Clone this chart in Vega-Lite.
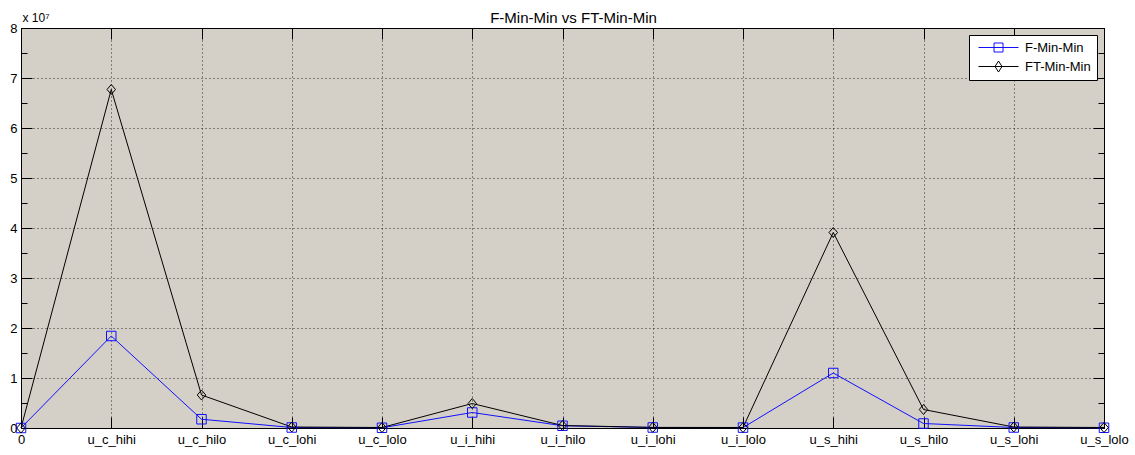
{
  "$schema": "https://vega.github.io/schema/vega-lite/v6.json",
  "width": 1083,
  "height": 400,
  "autosize": {"type": "none"},
  "padding": {"left": 21, "top": 28, "right": 31, "bottom": 27},
  "background": "white",
  "config": {
    "view": {"fill": "#d4d0c8", "stroke": "black", "strokeWidth": 1},
    "axis": {
      "labelFont": "Liberation Sans",
      "labelFontSize": 13,
      "labelColor": "black",
      "tickColor": "black",
      "domainColor": "black",
      "gridColor": "black",
      "gridDash": [1, 3],
      "gridOpacity": 0.8
    },
    "legend": {
      "labelFont": "Liberation Sans",
      "labelFontSize": 13,
      "labelColor": "black"
    }
  },
  "data": {
    "values": [
      {"name": "0", "series": "F-Min-Min", "value": 0},
      {"name": "u_c_hihi", "series": "F-Min-Min", "value": 18400000},
      {"name": "u_c_hilo", "series": "F-Min-Min", "value": 1750000},
      {"name": "u_c_lohi", "series": "F-Min-Min", "value": 100000},
      {"name": "u_c_lolo", "series": "F-Min-Min", "value": 50000},
      {"name": "u_i_hihi", "series": "F-Min-Min", "value": 3100000},
      {"name": "u_i_hilo", "series": "F-Min-Min", "value": 450000},
      {"name": "u_i_lohi", "series": "F-Min-Min", "value": 100000},
      {"name": "u_i_lolo", "series": "F-Min-Min", "value": 80000},
      {"name": "u_s_hihi", "series": "F-Min-Min", "value": 11000000},
      {"name": "u_s_hilo", "series": "F-Min-Min", "value": 900000},
      {"name": "u_s_lohi", "series": "F-Min-Min", "value": 100000},
      {"name": "u_s_lolo", "series": "F-Min-Min", "value": 50000},
      {"name": "0", "series": "FT-Min-Min", "value": 0},
      {"name": "u_c_hihi", "series": "FT-Min-Min", "value": 67700000},
      {"name": "u_c_hilo", "series": "FT-Min-Min", "value": 6600000},
      {"name": "u_c_lohi", "series": "FT-Min-Min", "value": 200000},
      {"name": "u_c_lolo", "series": "FT-Min-Min", "value": 100000},
      {"name": "u_i_hihi", "series": "FT-Min-Min", "value": 4900000},
      {"name": "u_i_hilo", "series": "FT-Min-Min", "value": 500000},
      {"name": "u_i_lohi", "series": "FT-Min-Min", "value": 120000},
      {"name": "u_i_lolo", "series": "FT-Min-Min", "value": 100000},
      {"name": "u_s_hihi", "series": "FT-Min-Min", "value": 39100000},
      {"name": "u_s_hilo", "series": "FT-Min-Min", "value": 3700000},
      {"name": "u_s_lohi", "series": "FT-Min-Min", "value": 200000},
      {"name": "u_s_lolo", "series": "FT-Min-Min", "value": 100000}
    ]
  },
  "layer": [
    {
      "mark": {"type": "line", "strokeWidth": 1},
      "encoding": {
        "x": {
          "field": "name", "type": "ordinal", "sort": null,
          "scale": {"type": "point", "padding": 0},
          "axis": {"orient": "bottom", "title": null, "labelAngle": 0, "grid": true, "tickSize": -11, "labelPadding": 16, "domain": true}
        },
        "y": {
          "field": "value", "type": "quantitative",
          "scale": {"domain": [0, 80000000], "nice": false},
          "axis": {
            "orient": "left",
            "values": [0, 10000000, 20000000, 30000000, 40000000, 50000000, 60000000, 70000000, 80000000],
            "labelExpr": "format(datum.value / 10000000, 'd')",
            "grid": true, "tickSize": -11, "labelPadding": 15,
            "title": "x 10⁷", "titleAngle": 0, "titleAlign": "left", "titleBaseline": "alphabetic",
            "titleX": 1, "titleY": -7, "titleFont": "Liberation Sans", "titleFontSize": 12, "titleFontWeight": "normal", "titleColor": "black"
          }
        },
        "color": {
          "field": "series", "type": "nominal",
          "scale": {"domain": ["F-Min-Min", "FT-Min-Min"], "range": ["#1010ff", "#000000"]},
          "legend": {
            "title": null, "orient": "top-right", "offset": 7,
            "fillColor": "white", "strokeColor": "black", "padding": 6,
            "symbolSize": 100, "symbolStrokeWidth": 1, "labelOffset": 20, "rowPadding": 4,
            "symbolOffset": 17,
            "encode": {
              "symbols": {
                "update": {
                  "shape": {"signal": "datum.value === 'F-Min-Min' ? 'M-4,0H4M-0.9,-0.9H0.9V0.9H-0.9Z' : 'M-4,0H4M0,-1.1L0.7,0L0,1.1L-0.7,0Z'"},
                  "fill": {"value": "transparent"}
                }
              }
            }
          }
        }
      }
    },
    {
      "transform": [{"filter": "datum.series === 'F-Min-Min'"}],
      "mark": {"type": "point", "filled": false, "strokeWidth": 1, "opacity": 1, "shape": "square", "size": 90},
      "encoding": {
        "x": {"field": "name", "type": "ordinal", "sort": null,
          "axis": {"orient": "top", "labels": false, "grid": false, "tickSize": -11, "domain": false,
            "title": "F-Min-Min vs FT-Min-Min", "titleX": 552, "titleY": -6, "titleBaseline": "alphabetic", "titleAlign": "center",
            "titleFont": "Liberation Sans", "titleFontSize": 15, "titleFontWeight": "normal", "titleColor": "black"}},
        "y": {"field": "value", "type": "quantitative",
          "axis": {"orient": "right", "title": null, "labels": false, "grid": false, "tickSize": -11, "domain": false,
            "values": [0, 10000000, 20000000, 30000000, 40000000, 50000000, 60000000, 70000000, 80000000]}},
        "color": {"field": "series", "type": "nominal"}
      }
    },
    {
      "transform": [{"filter": "datum.series === 'FT-Min-Min'"}],
      "mark": {"type": "point", "filled": false, "strokeWidth": 1, "opacity": 1, "shape": "M0,-1L0.85,0L0,1L-0.85,0Z", "size": 100},
      "encoding": {
        "x": {"field": "name", "type": "ordinal", "sort": null, "axis": null},
        "y": {"field": "value", "type": "quantitative", "axis": null},
        "color": {"field": "series", "type": "nominal"}
      }
    },
    {
      "mark": {"type": "point", "opacity": 0},
      "encoding": {
        "x": {"field": "name", "type": "ordinal", "sort": null, "axis": null},
        "y": {"field": "value", "type": "quantitative",
          "axis": {"orient": "left", "title": null, "labels": false, "grid": false, "tickSize": -6, "domain": false,
            "values": [5000000, 15000000, 25000000, 35000000, 45000000, 55000000, 65000000, 75000000]}}
      }
    },
    {
      "mark": {"type": "point", "opacity": 0},
      "encoding": {
        "x": {"field": "name", "type": "ordinal", "sort": null, "axis": null},
        "y": {"field": "value", "type": "quantitative",
          "axis": {"orient": "right", "title": null, "labels": false, "grid": false, "tickSize": -6, "domain": false,
            "values": [5000000, 15000000, 25000000, 35000000, 45000000, 55000000, 65000000, 75000000]}}
      }
    }
  ],
  "resolve": {"axis": {"x": "independent", "y": "independent"}}
}
